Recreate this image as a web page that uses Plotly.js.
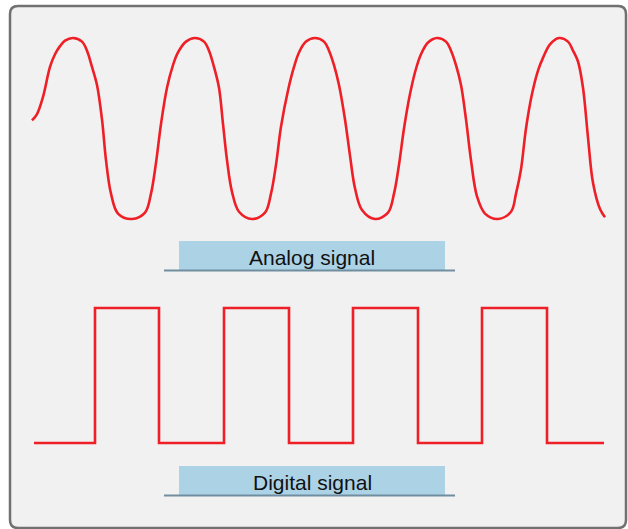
<!DOCTYPE html>
<html>
<head>
<meta charset="utf-8">
<script src="https://cdn.plot.ly/plotly-3.0.1.min.js"></script>
<style>
html,body{margin:0;padding:0;background:#ffffff;}
#chart{width:628px;height:529px;}
</style>
</head>
<body>
<div id="chart"></div>
<script>
// Analog signal: time position and amplitude
const analogT = [32, 37, 43, 50, 55, 60, 65, 73,
  82, 87, 92, 97, 102, 106, 111, 118, 132,
  145, 151, 156, 161, 167, 173, 178, 186, 195,
  204, 209, 214, 219, 223, 227, 232, 239, 252,
  265, 271, 276, 281, 288, 294, 299, 306, 315,
  324, 329, 334, 339, 345, 350, 355, 362, 375,
  388, 394, 399, 404, 410, 416, 421, 428, 437,
  446, 451, 456, 461, 466, 471, 477, 485, 498,
  511, 516, 521, 526, 532, 538, 543, 550, 559,
  568, 573, 578, 583, 588, 593, 600, 605];
const analogV = [0.09, 0.16, 0.35, 0.68, 0.82, 0.91, 0.97, 1.00,
  0.96, 0.86, 0.68, 0.48, 0.10, -0.35, -0.72, -0.94, -1.00,
  -0.93, -0.72, -0.38, 0.05, 0.45, 0.70, 0.84, 0.96, 1.00,
  0.96, 0.86, 0.68, 0.45, 0.05, -0.35, -0.70, -0.92, -1.00,
  -0.93, -0.72, -0.40, 0.02, 0.42, 0.68, 0.84, 0.96, 1.00,
  0.96, 0.86, 0.70, 0.48, 0.10, -0.30, -0.66, -0.90, -1.00,
  -0.93, -0.72, -0.40, 0.00, 0.38, 0.66, 0.82, 0.95, 1.00,
  0.96, 0.86, 0.70, 0.48, 0.10, -0.35, -0.75, -0.94, -1.00,
  -0.92, -0.72, -0.45, 0.00, 0.38, 0.64, 0.78, 0.93, 1.00,
  0.96, 0.86, 0.74, 0.45, -0.10, -0.60, -0.89, -0.98];

// Digital signal: transition times and levels
const digitalT = [34, 95, 159, 224, 289, 353, 418, 482, 547, 604];
const digitalV = [0, 1, 0, 1, 0, 1, 0, 1, 0, 0];

// Labels
const labels = ["Analog signal", "Digital signal"];

const W = 628, H = 529;
const red = "#ee1f26";

const traces = [
  {x: analogT, y: analogV, type: "scatter", mode: "lines", xaxis: "x", yaxis: "y",
   line: {color: red, width: 2.6, shape: "spline", smoothing: 1}, hoverinfo: "skip"},
  {x: digitalT, y: digitalV, type: "scatter", mode: "lines", xaxis: "x", yaxis: "y2",
   line: {color: red, width: 2.6, shape: "hv"}, hoverinfo: "skip"}
];

const hidden = {visible: false, showgrid: false, zeroline: false, fixedrange: true};

// pixel -> paper helpers for decoration
const px = v => v / W;
const py = v => 1 - v / H;

const L = 10, R = 626, T = 6, B = 528, r = 8;
const framePath = `M ${px(L+r)} ${py(T)} L ${px(R-r)} ${py(T)} Q ${px(R)} ${py(T)} ${px(R)} ${py(T+r)} ` +
  `L ${px(R)} ${py(B-r)} Q ${px(R)} ${py(B)} ${px(R-r)} ${py(B)} L ${px(L+r)} ${py(B)} ` +
  `Q ${px(L)} ${py(B)} ${px(L)} ${py(B-r)} L ${px(L)} ${py(T+r)} Q ${px(L)} ${py(T)} ${px(L+r)} ${py(T)} Z`;

const boxFill = "#acd2e6";
const ruleColor = "#718da0";

function box(top, bottom) {
  return {type: "rect", xref: "paper", yref: "paper", x0: px(179), x1: px(445),
          y0: py(bottom), y1: py(top), fillcolor: boxFill, line: {width: 0}, layer: "below"};
}
function rule(yy) {
  return {type: "line", xref: "paper", yref: "paper", x0: px(164), x1: px(455),
          y0: py(yy), y1: py(yy), line: {color: ruleColor, width: 2}, layer: "below"};
}
function label(text, yy) {
  return {x: px(312), y: py(yy), xref: "paper", yref: "paper", text: text, showarrow: false,
          xanchor: "center", yanchor: "middle",
          font: {family: "Liberation Sans, Arial, sans-serif", size: 21, color: "#111111"}};
}

const layout = {
  width: W, height: H,
  margin: {l: 0, r: 0, t: 0, b: 0},
  paper_bgcolor: "#ffffff",
  plot_bgcolor: "rgba(0,0,0,0)",
  showlegend: false,
  xaxis: Object.assign({range: [0, 628]}, hidden),
  yaxis: Object.assign({range: [-1.2, 1.2], domain: [0.5518, 0.9624]}, hidden),
  yaxis2: Object.assign({range: [-0.2, 1.2], domain: [0.1115, 0.4688], anchor: "x"}, hidden),
  shapes: [
    {type: "path", xref: "paper", yref: "paper", path: framePath, fillcolor: "#f1f1f1",
     line: {color: "#717171", width: 2.5}, layer: "below"},
    box(241, 270), rule(270.5),
    box(466, 495), rule(495.5)
  ],
  annotations: [label(labels[0], 257), label(labels[1], 482)]
};

Plotly.newPlot("chart", traces, layout, {staticPlot: true, displayModeBar: false});
</script>
</body>
</html>
